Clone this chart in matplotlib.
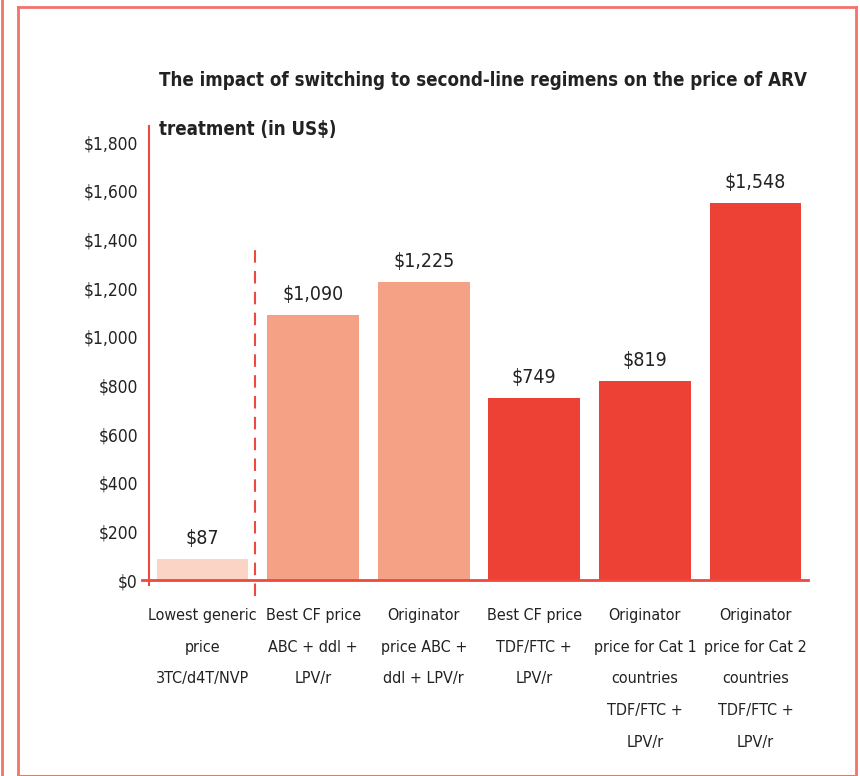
import matplotlib
matplotlib.use('Agg')
import matplotlib.pyplot as plt
from matplotlib.ticker import FuncFormatter
from matplotlib.lines import Line2D

plt.rcParams['font.family'] = ['DejaVu Sans']
plt.rcParams['font.stretch'] = 'condensed'

# 数据
categories = [
    'Lowest generic\nprice\n3TC/d4T/NVP',
    'Best CF price\nABC + ddl +\nLPV/r',
    'Originator\nprice ABC +\nddl + LPV/r',
    'Best CF price\nTDF/FTC +\nLPV/r',
    'Originator\nprice for Cat 1\ncountries\nTDF/FTC +\nLPV/r',
    'Originator\nprice for Cat 2\ncountries\nTDF/FTC +\nLPV/r',
]
prices = [87, 1090, 1225, 749, 819, 1548]
yticks = [0, 200, 400, 600, 800, 1000, 1200, 1400, 1600, 1800]
title_lines = ['The impact of switching to second-line regimens on the price of ARV',
               'treatment (in US$)']

bar_colors = ['#fcd4c5', '#f5a185', '#f5a185', '#ee4136', '#ee4136', '#ee4136']
red = '#ec4a40'
frame_red = '#f2736c'
ink = '#222222'

W, H = 860, 776
fig = plt.figure(figsize=(W / 100, H / 100), dpi=100)
ax = fig.add_axes([149 / W, 1 - 580 / H, (808 - 149) / W, (580 - 126) / H])

x = range(len(prices))
ax.bar(x, prices, width=0.83, color=bar_colors, zorder=2)

for xi, v in zip(x, prices):
    ax.text(xi, v + 45, f'${v:,}', ha='center', va='bottom', fontsize=14, color=ink)

ax.set_xlim(-0.484, 5.475)
ax.set_ylim(0, 1866)
ax.set_yticks(yticks)
ax.yaxis.set_major_formatter(FuncFormatter(lambda v, p: f'${int(v):,}'))
ax.set_xticks(list(x))
ax.set_xticklabels(categories, fontsize=11.5, linespacing=2.4, color=ink)
ax.tick_params(axis='x', length=0, pad=20)
ax.tick_params(axis='y', length=0, pad=8, labelsize=12.5, labelcolor=ink)

for s in ['top', 'right']:
    ax.spines[s].set_visible(False)
ax.spines['left'].set_color(red)
ax.spines['left'].set_linewidth(1.5)
ax.spines['left'].set_bounds(-20, 1866)
ax.spines['bottom'].set_color(red)
ax.spines['bottom'].set_linewidth(2)
ax.spines['bottom'].set_bounds(-0.55, 5.475)
ax.spines['bottom'].set_zorder(3)

# 分隔虚线
ax.plot([0.47, 0.47], [-65, 1365], color=red, lw=1.5, ls=(0, (6, 4)), clip_on=False, zorder=3)

# 标题（两行）
for line, yb in zip(title_lines, [86, 135]):
    fig.text(159 / W, 1 - yb / H, line, ha='left', va='baseline',
             fontsize=13.4, fontweight='bold', color=ink)

# 外框
def fline(x0, y0, x1, y1, lw=2):
    fig.add_artist(Line2D([x0 / W, x1 / W], [1 - y0 / H, 1 - y1 / H], color=frame_red, lw=lw))

fline(18, 7, 856, 7)
fline(18, 7, 18, 776)
fline(856, 7, 856, 776)
fline(1.5, 0, 1.5, 776)
fline(18, 775, 856, 775, lw=0.8)

fig.savefig('out.png', dpi=100)
